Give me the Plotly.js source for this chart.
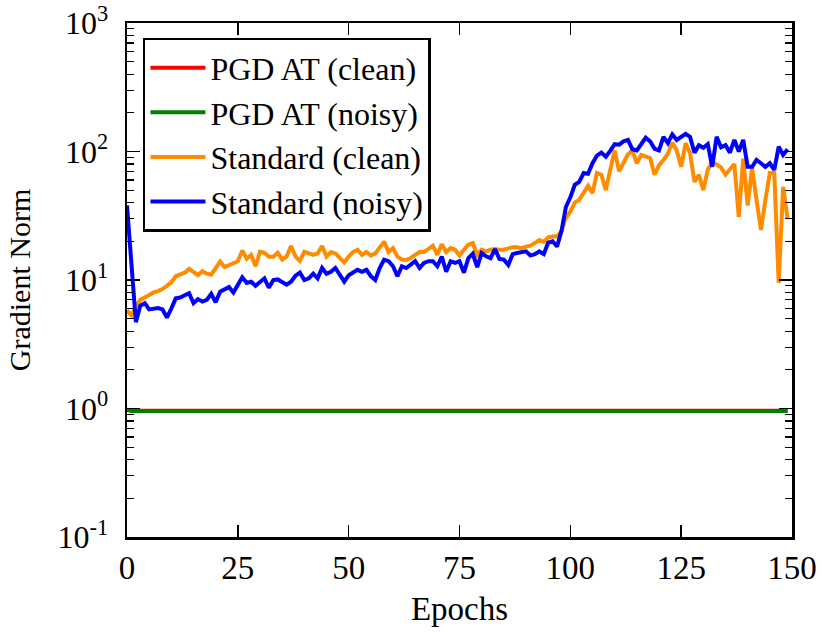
<!DOCTYPE html>
<html>
<head>
<meta charset="utf-8">
<script src="https://cdn.plot.ly/plotly-3.0.1.min.js"></script>
<style>
  html, body { margin: 0; padding: 0; background: #fff; }
  #plot { width: 822px; height: 632px; }
</style>
</head>
<body>
<div id="plot"></div>
<script>
// values, one per epoch (0..149)
const pgdClean = [
  0.98, 0.96, 0.96, 0.96, 0.96, 0.96, 0.96, 0.96, 0.96, 0.96, 0.96, 0.96, 0.96, 0.96, 0.96, 0.96, 0.96, 0.96, 0.96, 0.96, 0.96, 0.96, 0.96, 0.96, 0.96,
  0.96, 0.96, 0.96, 0.96, 0.96, 0.96, 0.96, 0.96, 0.96, 0.96, 0.96, 0.96, 0.96, 0.96, 0.96, 0.96, 0.96, 0.96, 0.96, 0.96, 0.96, 0.96, 0.96, 0.96, 0.96,
  0.96, 0.96, 0.96, 0.96, 0.96, 0.96, 0.96, 0.96, 0.96, 0.96, 0.96, 0.96, 0.96, 0.96, 0.96, 0.96, 0.96, 0.96, 0.96, 0.96, 0.96, 0.96, 0.96, 0.96, 0.96,
  0.96, 0.96, 0.96, 0.96, 0.96, 0.96, 0.96, 0.96, 0.96, 0.96, 0.96, 0.96, 0.96, 0.96, 0.96, 0.96, 0.96, 0.96, 0.96, 0.96, 0.96, 0.96, 0.96, 0.96, 0.96,
  0.96, 0.96, 0.96, 0.96, 0.96, 0.96, 0.96, 0.96, 0.96, 0.96, 0.96, 0.96, 0.96, 0.96, 0.96, 0.96, 0.96, 0.96, 0.96, 0.96, 0.96, 0.96, 0.96, 0.96, 0.96,
  0.96, 0.96, 0.96, 0.96, 0.96, 0.96, 0.96, 0.96, 0.96, 0.96, 0.96, 0.96, 0.96, 0.96, 0.96, 0.96, 0.96, 0.96, 0.96, 0.96, 0.96, 0.96, 0.96, 0.96, 0.96
];
const pgdNoisy = [
  0.98, 0.955, 0.955, 0.955, 0.955, 0.955, 0.955, 0.955, 0.955, 0.955, 0.955, 0.955, 0.955, 0.955, 0.955, 0.955, 0.955, 0.955, 0.955, 0.955, 0.955, 0.955, 0.955, 0.955, 0.955,
  0.955, 0.955, 0.955, 0.955, 0.955, 0.955, 0.955, 0.955, 0.955, 0.955, 0.955, 0.955, 0.955, 0.955, 0.955, 0.955, 0.955, 0.955, 0.955, 0.955, 0.955, 0.955, 0.955, 0.955, 0.955,
  0.955, 0.955, 0.955, 0.955, 0.955, 0.955, 0.955, 0.955, 0.955, 0.955, 0.955, 0.955, 0.955, 0.955, 0.955, 0.955, 0.955, 0.955, 0.955, 0.955, 0.955, 0.955, 0.955, 0.955, 0.955,
  0.955, 0.955, 0.955, 0.955, 0.955, 0.955, 0.955, 0.955, 0.955, 0.955, 0.955, 0.955, 0.955, 0.955, 0.955, 0.955, 0.955, 0.955, 0.955, 0.955, 0.955, 0.955, 0.955, 0.955, 0.955,
  0.955, 0.955, 0.955, 0.955, 0.955, 0.955, 0.955, 0.955, 0.955, 0.955, 0.955, 0.955, 0.955, 0.955, 0.955, 0.955, 0.955, 0.955, 0.955, 0.955, 0.955, 0.955, 0.955, 0.955, 0.955,
  0.955, 0.955, 0.955, 0.955, 0.955, 0.955, 0.955, 0.955, 0.955, 0.955, 0.955, 0.955, 0.955, 0.955, 0.955, 0.955, 0.955, 0.955, 0.955, 0.955, 0.955, 0.955, 0.955, 0.955, 0.955
];
const stdClean = [
  5.8, 5.3, 6.2, 7.0, 7.3, 7.7, 8.0, 8.2, 8.5, 9.0,
  9.6, 10.7, 11.0, 11.4, 12.2, 11.5, 10.9, 11.7, 11.2, 11.0,
  12.3, 13.9, 12.6, 13.0, 13.4, 14.0, 17.0, 14.6, 15.7, 12.8,
  16.6, 16.3, 15.2, 15.2, 16.3, 14.4, 15.2, 18.4, 15.2, 14.1,
  16.6, 16.1, 15.7, 16.1, 18.4, 15.2, 16.5, 16.1, 15.0, 13.7,
  15.2, 16.5, 17.2, 15.7, 16.5, 15.5, 16.1, 17.7, 19.9, 16.5,
  17.7, 15.2, 14.4, 14.3, 14.8, 15.7, 16.5, 16.5, 17.5, 18.5,
  15.7, 19.0, 16.5, 17.7, 17.2, 15.5, 17.2, 18.8, 19.4, 15.7,
  17.2, 16.7, 17.2, 17.4, 17.2, 17.2, 17.6, 18.0, 18.0, 17.7,
  18.2, 18.5, 19.4, 20.5, 19.8, 21.5, 21.8, 21.8, 24, 30.5,
  34, 40, 42, 48, 54, 47.4, 68, 66, 50, 72,
  102, 70, 81, 95, 102, 81, 94, 91, 89, 66,
  78, 86, 96, 117, 102, 76, 116, 97, 58, 66,
  50, 72, 83, 79, 75, 66, 72, 80, 31, 88,
  38, 75, 42, 24.5, 42, 68, 68, 9.5, 53, 30
];
const stdNoisy = [
  38, 13, 4.7, 6.3, 6.6, 5.9, 6.0, 6.05, 5.9, 5.1,
  6.0, 7.2, 7.3, 7.6, 7.9, 6.6, 7.1, 6.8, 7.0, 7.8,
  6.7, 8.1, 8.4, 8.8, 8.0, 9.3, 10.5, 9.5, 9.7, 9.0,
  9.7, 10.3, 8.7, 10.0, 10.1, 9.7, 9.2, 9.7, 10.8, 11.4,
  10.0, 10.3, 11.2, 10.3, 12.4, 11.2, 11.6, 12.4, 10.9, 9.7,
  10.9, 11.5, 12.0, 11.6, 12.0, 10.7, 10.0, 12.4, 14.4, 14.0,
  12.8, 10.7, 12.8, 12.4, 13.2, 14.0, 12.4, 13.6, 14.0, 14.0,
  12.8, 15.2, 11.6, 14.0, 13.6, 14.0, 11.4, 14.8, 16.0, 12.6,
  16.2, 15.3, 14.8, 17.4, 14.6, 14.4, 13.1, 15.9, 16.2, 16.4,
  16.7, 15.5, 15.9, 16.7, 15.9, 19.5, 20.0, 18.2, 24, 37,
  44, 55, 58, 68, 67, 81, 93, 98, 91, 101,
  114, 113, 120, 123, 104, 102, 115, 128, 120, 105,
  102, 130, 116, 136, 123, 130, 137, 130, 98, 112,
  107, 114, 76, 130, 108, 112, 98, 123, 100, 123,
  76, 76, 86, 81, 76, 81, 72, 109, 94, 104
];
const seriesNames = ["PGD AT (clean)", "PGD AT (noisy)", "Standard (clean)", "Standard (noisy)"];
const seriesColors = ["#ff0000", "#008000", "#ff8c00", "#0000ff"];
const yTickVals = [0.1, 1, 10, 100, 1000];
const yTickText = ["10<sup>-1</sup>", "10<sup>0</sup>", "10<sup>1</sup>", "10<sup>2</sup>", "10<sup>3</sup>"];
const xTickVals = [0, 25, 50, 75, 100, 125, 150];

const epochs = stdClean.map((_, i) => i);

// minor ticks 2..9 in each decade
let minorVals = [];
for (const d of [0.1, 1, 10, 100]) {
    for (let k = 2; k <= 9; k++) minorVals.push(+(k * d).toPrecision(3));
}

const serif = "'Liberation Serif', 'Times New Roman', serif";
const allSeries = [pgdClean, pgdNoisy, stdClean, stdNoisy];
const traces = allSeries.map((ys, i) => ({
    x: epochs,
    y: ys,
    name: seriesNames[i],
    legendgroup: "g" + i,
    mode: "lines",
    type: "scatter",
    line: { color: seriesColors[i], width: 4 }
}));

const layout = {
    width: 822,
    height: 632,
    margin: { l: 127, r: 30, t: 23, b: 95 },
    paper_bgcolor: "#fff",
    plot_bgcolor: "#fff",
    font: { family: serif, size: 32, color: "#000" },
    showlegend: true,
    legend: {
        x: 0.024, y: 0.971, xanchor: "left", yanchor: "top",
        bgcolor: "#fff", bordercolor: "#000", borderwidth: 2.5,
        font: { family: serif, size: 32, color: "#000" },
        itemwidth: 55,
        tracegroupgap: 0
    },
    xaxis: {
        range: [0, 150],
        tickvals: xTickVals,
        tickfont: { family: serif, size: 33 },
        ticks: "inside", ticklen: 12, tickwidth: 1.5, tickcolor: "#000",
        showline: true, linewidth: 2.5, linecolor: "#000", mirror: "allticks",
        showgrid: false, zeroline: false,
        title: { text: "Epochs", font: { family: serif, size: 33 }, standoff: 12 }
    },
    yaxis: {
        type: "log",
        range: [-1, 3],
        tickvals: yTickVals,
        ticktext: yTickText,
        tickfont: { family: serif, size: 32 },
        ticks: "inside", ticklen: 13, tickwidth: 1.5, tickcolor: "#000",
        showline: true, linewidth: 2.5, linecolor: "#000", mirror: "allticks",
        showgrid: false, zeroline: false,
        ticklabelstandoff: 10,
        minor: { tickvals: minorVals, ticks: "inside", ticklen: 7, tickwidth: 1.2, tickcolor: "#000", showgrid: false },
        title: { text: "Gradient Norm", font: { family: serif, size: 30 }, standoff: 18 }
    }
};

Plotly.newPlot("plot", traces, layout, { staticPlot: true });
</script>
</body>
</html>
